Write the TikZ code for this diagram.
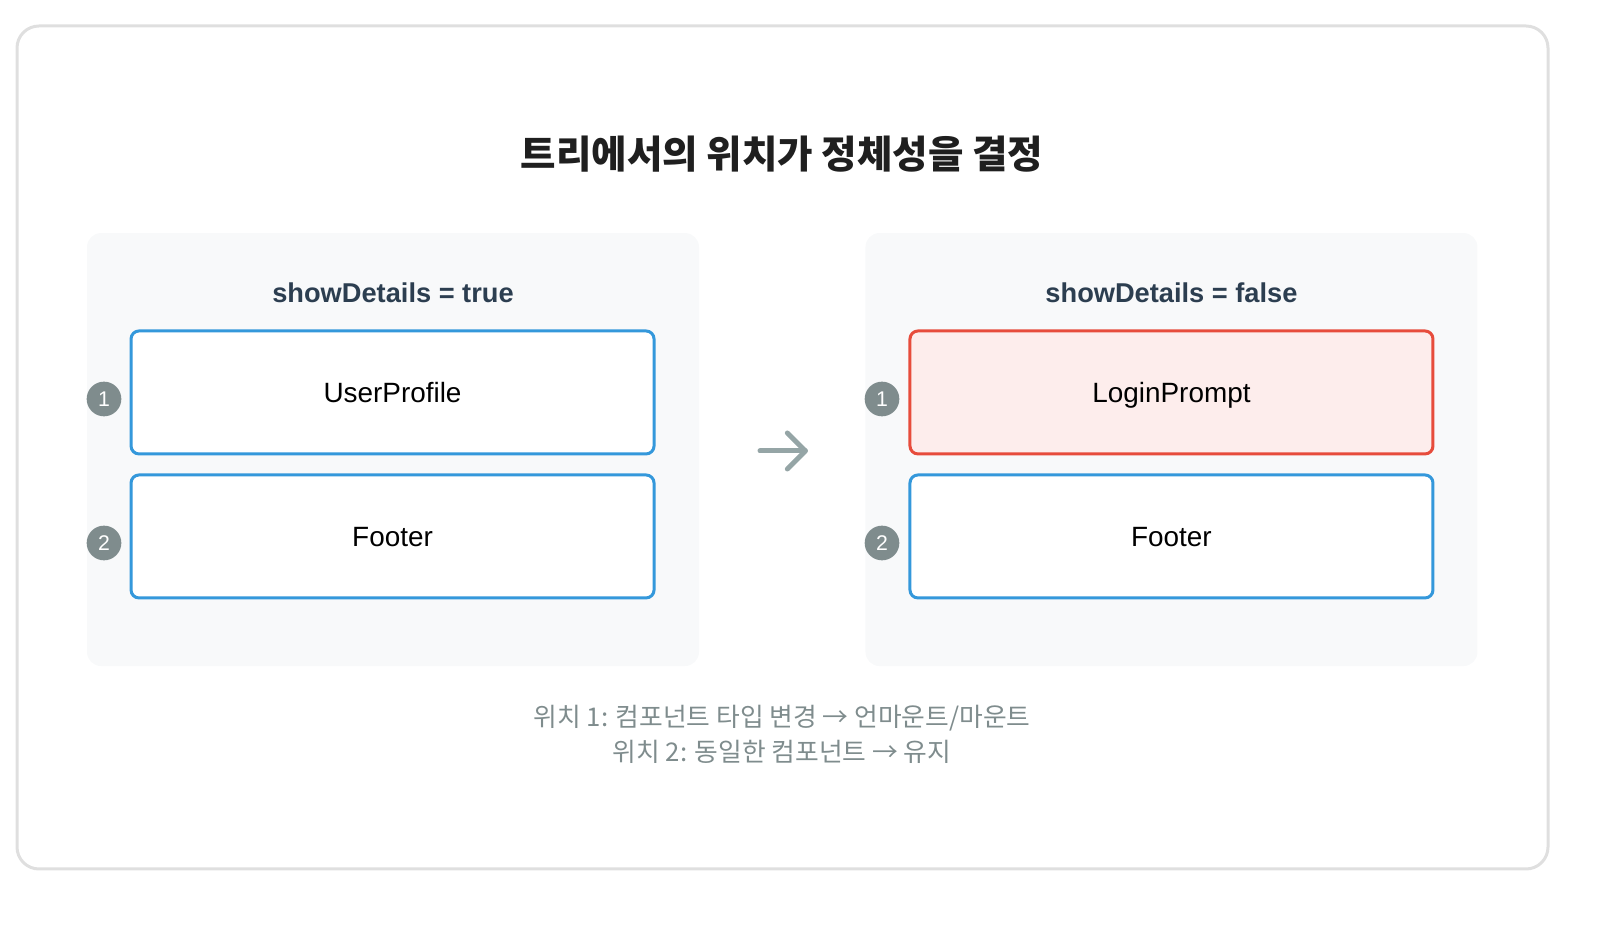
\documentclass[tikz,border=0pt]{standalone}
\usepackage{fontspec}
\setmainfont{Liberation Sans}
\newfontfamily\krfont{Noto Sans CJK KR}
\definecolor{framegray}{HTML}{DFDFDF}
\definecolor{panelfill}{HTML}{F8F9FA}
\definecolor{keepblue}{HTML}{3498DB}
\definecolor{swapred}{HTML}{E74C3C}
\definecolor{swapfill}{HTML}{FDEDEC}
\definecolor{slotgray}{HTML}{7F8C8D}
\definecolor{arrowgray}{HTML}{95A5A6}
\definecolor{labelnavy}{HTML}{2C3E50}
\begin{document}
\begin{tikzpicture}[line join=round,
  panel/.style={fill=panelfill,draw=none,rounded corners=10.5bp,minimum width=459bp,minimum height=324.75bp},
  comp/.style={draw=keepblue,fill=white,line width=2.25bp,rounded corners=6bp,minimum width=392.25bp,minimum height=92.25bp,text height=15pt,text depth=0pt,font=\fontsize{21}{25}\selectfont},
  swapped/.style={comp,draw=swapred,fill=swapfill},
  slot/.style={circle,fill=slotgray,draw=none,text=white,minimum size=26bp,inner sep=0pt,font=\fontsize{16}{18}\selectfont},
  heading/.style={text=labelnavy,font=\fontsize{20.5}{24}\selectfont\bfseries},
]
\useasboundingbox (0bp,0bp) rectangle (1200bp,693.75bp);
%%
\draw [framegray,line width=2.25bp,rounded corners=16.5bp] (12.75bp,42bp) rectangle (1161bp,674.25bp);
\node (title) at (586.5bp,578bp) [text=black!88,font=\krfont\fontsize{29}{34}\selectfont\bfseries] {트리에서의 위치가 정체성을 결정};
%
\node (panel_0) at (294.75bp,356.6bp) [panel] {};
  \node (panel_1) at (878.6bp,356.6bp) [panel] {};
  \node (head_0) at (294.75bp,474bp) [heading] {showDetails = true};
  \node (head_1) at (878.6bp,474bp) [heading] {showDetails = false};
%
\node (node_0) at (294.4bp,399.4bp) [comp] {UserProfile};
  \node (node_1) at (294.4bp,291.4bp) [comp] {Footer};
  \node (node_2) at (878.6bp,399.4bp) [swapped] {LoginPrompt};
  \node (node_3) at (878.6bp,291.4bp) [comp] {Footer};
%
\node (slot_0) at (78bp,394.5bp) [slot] {1};
  \node (slot_1) at (78bp,286.5bp) [slot] {2};
  \node (slot_2) at (661.5bp,394.5bp) [slot] {1};
  \node (slot_3) at (661.5bp,286.5bp) [slot] {2};
%
\coordinate (arrow_tail) at (570bp,355.5bp);
  \coordinate (arrow_tip) at (604bp,355.5bp);
  \draw [arrowgray,line width=3.75bp,line cap=round] (arrow_tail) -- (arrow_tip);
  \draw [arrowgray,line width=3.75bp,line cap=round] ([xshift=-13.5bp,yshift=13.5bp]arrow_tip) -- (arrow_tip) -- ([xshift=-13.5bp,yshift=-13.5bp]arrow_tip);
%
\node (note) at (586.5bp,143bp) [text=slotgray,align=center,font=\krfont\fontsize{19.4}{26.25}\selectfont] {위치 1: 컴포넌트 타입 변경 → 언마운트/마운트\\위치 2: 동일한 컴포넌트 → 유지};
%
\end{tikzpicture}
\end{document}
